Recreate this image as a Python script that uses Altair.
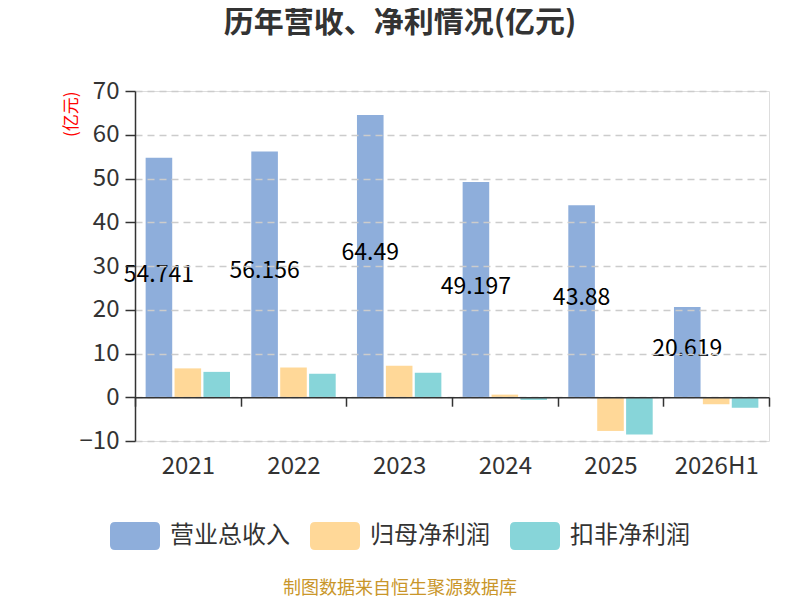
import altair as alt
import pandas as pd

years = ["2021", "2022", "2023", "2024", "2025", "2026H1"]
revenue = [54.741, 56.156, 64.49, 49.197, 43.88, 20.619]
net_profit = [6.6, 6.8, 7.2, 0.6, -7.7, -1.6]
deducted_profit = [5.8, 5.4, 5.6, -0.6, -8.5, -2.4]

series_names = ["营业总收入", "归母净利润", "扣非净利润"]
series_colors = ["#8eaedb", "#ffd898", "#87d5d9"]
y_ticks = [-10, 0, 10, 20, 30, 40, 50, 60, 70]
title_text = "历年营收、净利情况(亿元)"
source_text = "制图数据来自恒生聚源数据库"

FONT = "Noto Sans CJK SC"

rows = []
for i, y in enumerate(years):
    for name, vals in zip(series_names, [revenue, net_profit, deducted_profit]):
        rows.append({"year": y, "series": name, "value": vals[i]})
df = pd.DataFrame(rows)

lab = pd.DataFrame({
    "year": years,
    "series": [series_names[0]] * len(years),
    "value": revenue,
    "label": [str(v) for v in revenue],
})
lab["mid"] = lab["value"] / 2

W, H = 634, 350

x_scale = alt.Scale(domain=years, paddingInner=0, paddingOuter=0)
xo_scale = alt.Scale(domain=series_names, paddingInner=0.08, paddingOuter=0.368)
y_scale = alt.Scale(domain=[-10, 70], nice=False, zero=False)

legend_path = ("M-0.8,-0.56 L0.8,-0.56 Q1,-0.56 1,-0.36 L1,0.36 Q1,0.56 0.8,0.56 "
               "L-0.8,0.56 Q-1,0.56 -1,0.36 L-1,-0.36 Q-1,-0.56 -0.8,-0.56 Z")

bars = alt.Chart(df).mark_bar().encode(
    x=alt.X("year:N", scale=x_scale, sort=years,
            axis=alt.Axis(title=None, domain=True, domainColor="#333333", domainWidth=1.5,
                          ticks=True, tickBand="extent", tickColor="#333333", tickWidth=1.5,
                          tickSize=9, offset=-43.8,
                          labelAngle=0, labelFontSize=24, labelColor="#333333",
                          labelPadding=48, labelFont=FONT, zindex=1)),
    xOffset=alt.XOffset("series:N", scale=xo_scale, sort=series_names),
    y=alt.Y("value:Q", scale=y_scale,
            axis=alt.Axis(values=y_ticks, title="(亿元)", titleColor="red",
                          titleFontSize=17, titleFontWeight="normal", titleAnchor="end",
                          titlePadding=-1, titleFont=FONT,
                          labelFontSize=24, labelColor="#333333", labelPadding=6,
                          labelFont=FONT,
                          domainColor="#333333", domainWidth=1.5,
                          tickColor="#333333", tickWidth=1.5, tickSize=10,
                          grid=True, gridColor="#cccccc", gridDash=[7, 5], gridWidth=1.5,
                          zindex=1)),
    color=alt.Color("series:N", scale=alt.Scale(domain=series_names, range=series_colors),
                    sort=series_names,
                    legend=alt.Legend(title=None, orient="none", direction="horizontal",
                                      legendX=-25, legendY=420,
                                      symbolType=legend_path, symbolSize=2500,
                                      symbolStrokeWidth=0, symbolOpacity=1,
                                      labelFontSize=24, labelColor="#333333",
                                      labelFont=FONT,
                                      labelOffset=10, columnPadding=20, padding=0)),
)

labels = alt.Chart(lab).mark_text(fontSize=23, color="#000000", baseline="middle",
                                  align="center", font=FONT, dy=-3).encode(
    x=alt.X("year:N", scale=x_scale, sort=years),
    xOffset=alt.XOffset("series:N", scale=xo_scale, sort=series_names),
    y=alt.Y("mid:Q", scale=y_scale),
    text="label:N",
)

source = alt.Chart(pd.DataFrame({"t": [source_text]})).mark_text(
    fontSize=18, color="#c9962a", align="center", baseline="middle", font=FONT
).encode(x=alt.value(265), y=alt.value(498), text="t:N")

chart = alt.layer(bars, labels, source).properties(
    width=W, height=H,
    title=alt.TitleParams(title_text, fontSize=30, fontWeight="bold", color="#333333",
                          anchor="middle", frame="group", dx=-52, offset=41, font=FONT),
    autosize=alt.AutoSizeParams(type="none"),
    padding={"left": 127, "top": 83, "right": 23, "bottom": 159},
).configure_view(stroke=None).configure(font=FONT)

chart.save("out.html", embed_options={"renderer": "svg", "actions": False})
